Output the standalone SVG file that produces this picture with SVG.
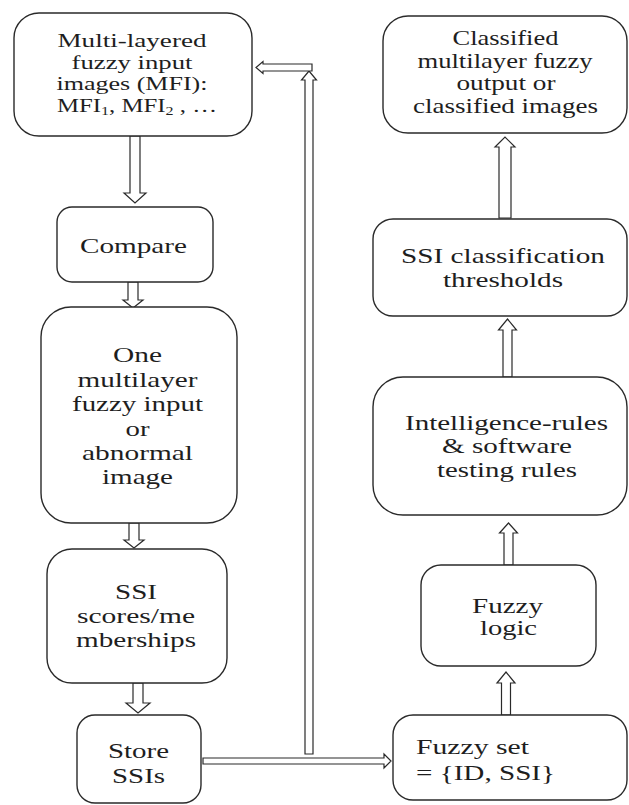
<svg xmlns="http://www.w3.org/2000/svg" width="629" height="805" viewBox="0 0 629 805">
<style>
.box{fill:#fff;stroke:#2a2a2a;stroke-width:1.4}
.arr{fill:#fff;stroke:#2a2a2a;stroke-width:1.2;stroke-linejoin:miter}
text{font-family:"Liberation Serif","Times New Roman",serif;font-size:21px;fill:#1e1e1e}
.c{text-anchor:middle}
.t{font-size:18.5px}
.sub{font-size:12px}
</style>
<rect width="629" height="805" fill="#fff"/>
<g id="connectors">
<polygon class="arr" points="130,136 140,136 140,193 146,193 135,203 124,193 130,193"/>
<polygon class="arr" points="128,282 138,282 138,300 143,300 133,308 123,300 128,300"/>
<polygon class="arr" points="129,523 139,523 139,540 144,540 134,548 124,540 129,540"/>
<polygon class="arr" points="133,683 143,683 143,703 150,703 138,713 126,703 133,703"/>
<polygon class="arr" points="499,218 511,218 511,147 515,147 505,137 495,147 499,147"/>
<polygon class="arr" points="503,377 512,377 512,330 516.5,330 507.5,319 498.5,330 503,330"/>
<polygon class="arr" points="504,565 513,565 513,533 517.5,533 508.5,523 499.5,533 504,533"/>
<polygon class="arr" points="501.5,715 510.5,715 510.5,683 515,683 506,672 497,683 501.5,683"/>
<polygon class="arr" points="305,754 313,754 313,80 316.5,80 309,71 301.5,80 305,80"/>
<polygon class="arr" points="312,64 312,71 263,71 263,73.5 256,67.5 263,61.5 263,64"/>
<polygon class="arr" points="203,758 203,764 384,764 384,768 391,761 384,754 384,758"/>
</g>
<g id="n1">
<rect class="box" x="14" y="13" width="238" height="123" rx="25"/>
<text class="c t" x="132" y="47" textLength="149" lengthAdjust="spacingAndGlyphs">Multi-layered</text>
<text class="c t" x="132" y="68.5" textLength="121" lengthAdjust="spacingAndGlyphs">fuzzy input</text>
<text class="c t" x="132" y="90" textLength="151" lengthAdjust="spacingAndGlyphs">images (MFI):</text>
<text class="c t" x="137" y="111.5" textLength="160" lengthAdjust="spacingAndGlyphs">MFI<tspan class="sub" dy="3">1</tspan><tspan dy="-3">, MFI</tspan><tspan class="sub" dy="3">2</tspan><tspan dy="-3"> , …</tspan></text>
</g>
<g id="n2">
<rect class="box" x="57" y="207" width="156" height="75" rx="15"/>
<text class="c" x="133.5" y="253" textLength="107" lengthAdjust="spacingAndGlyphs">Compare</text>
</g>
<g id="n3">
<rect class="box" x="41" y="307" width="196" height="216" rx="30"/>
<text class="c" x="137.5" y="362" textLength="49" lengthAdjust="spacingAndGlyphs">One</text>
<text class="c" x="137.5" y="386.5" textLength="120" lengthAdjust="spacingAndGlyphs">multilayer</text>
<text class="c" x="137.5" y="411" textLength="131" lengthAdjust="spacingAndGlyphs">fuzzy input</text>
<text class="c" x="137.5" y="435.5" textLength="24" lengthAdjust="spacingAndGlyphs">or</text>
<text class="c" x="137.5" y="460" textLength="111" lengthAdjust="spacingAndGlyphs">abnormal</text>
<text class="c" x="137.5" y="484" textLength="71" lengthAdjust="spacingAndGlyphs">image</text>
</g>
<g id="n4">
<rect class="box" x="47" y="549" width="180" height="134" rx="25"/>
<text class="c" x="136" y="599" textLength="42" lengthAdjust="spacingAndGlyphs">SSI</text>
<text class="c" x="136" y="623" textLength="118" lengthAdjust="spacingAndGlyphs">scores/me</text>
<text class="c" x="136" y="647" textLength="120" lengthAdjust="spacingAndGlyphs">mberships</text>
</g>
<g id="n5">
<rect class="box" x="77" y="715" width="124" height="88" rx="18"/>
<text class="c" x="138.5" y="758" textLength="61" lengthAdjust="spacingAndGlyphs">Store</text>
<text class="c" x="138.5" y="783" textLength="53" lengthAdjust="spacingAndGlyphs">SSIs</text>
</g>
<g id="n6">
<rect class="box" x="383" y="16" width="244" height="117" rx="25"/>
<text class="c" x="505.5" y="45" textLength="106" lengthAdjust="spacingAndGlyphs">Classified</text>
<text class="c" x="505" y="68" textLength="175" lengthAdjust="spacingAndGlyphs">multilayer fuzzy</text>
<text class="c" x="506" y="90" textLength="99" lengthAdjust="spacingAndGlyphs">output or</text>
<text class="c" x="505.5" y="113" textLength="185" lengthAdjust="spacingAndGlyphs">classified images</text>
</g>
<g id="n7">
<rect class="box" x="373" y="219" width="254" height="97" rx="20"/>
<text class="c" x="503" y="263" textLength="204" lengthAdjust="spacingAndGlyphs">SSI classification</text>
<text class="c" x="503" y="287" textLength="120" lengthAdjust="spacingAndGlyphs">thresholds</text>
</g>
<g id="n8">
<rect class="box" x="373" y="377" width="254" height="138" rx="30"/>
<text class="c" x="506.5" y="430" textLength="203" lengthAdjust="spacingAndGlyphs">Intelligence-rules</text>
<text class="c" x="507" y="453" textLength="130" lengthAdjust="spacingAndGlyphs">&amp; software</text>
<text class="c" x="507" y="477" textLength="140" lengthAdjust="spacingAndGlyphs">testing rules</text>
</g>
<g id="n9">
<rect class="box" x="421" y="565" width="175" height="101" rx="20"/>
<text class="c" x="507.5" y="613" textLength="71" lengthAdjust="spacingAndGlyphs">Fuzzy</text>
<text class="c" x="508.5" y="635" textLength="57" lengthAdjust="spacingAndGlyphs">logic</text>
</g>
<g id="n10">
<rect class="box" x="393" y="715" width="234" height="85" rx="20"/>
<text x="416" y="754" textLength="113" lengthAdjust="spacingAndGlyphs">Fuzzy set</text>
<text x="416" y="780" textLength="139" lengthAdjust="spacingAndGlyphs">= {ID, SSI}</text>
</g>
</svg>
